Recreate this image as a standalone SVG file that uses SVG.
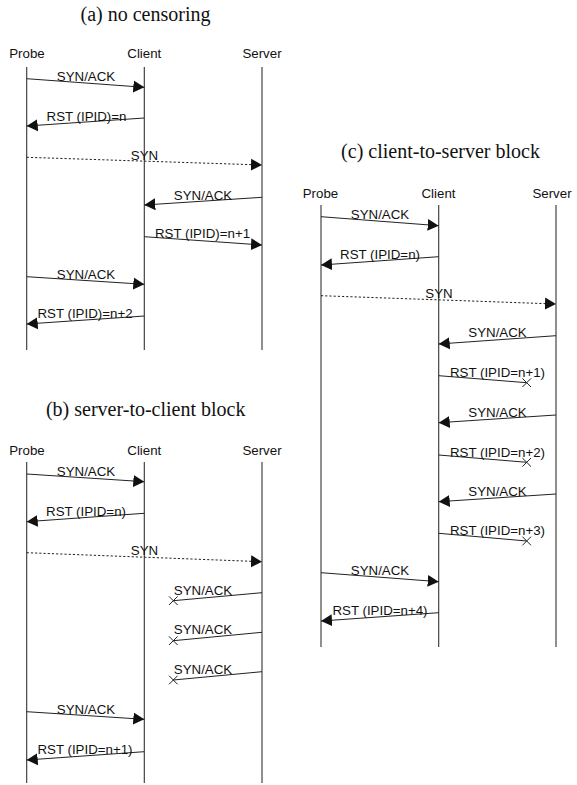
<svg xmlns="http://www.w3.org/2000/svg" width="577" height="785" viewBox="0 0 577 785">
<style>
.title{font-family:"Liberation Serif","Times New Roman",serif;font-size:20px;fill:#111;text-anchor:middle}
.hdr{font-family:"Liberation Sans",Arial,sans-serif;font-size:13.3px;fill:#111;text-anchor:middle}
.lbl{font-family:"Liberation Sans",Arial,sans-serif;font-size:13.3px;fill:#111;text-anchor:middle}
.life{stroke:#333;stroke-width:1.1;fill:none}
.msg{stroke:#222;stroke-width:1;fill:none}
.arr{marker-end:url(#ah)}
.dot{stroke-dasharray:2.2,2}
.x{stroke:#222;stroke-width:1;fill:none}
</style>
<defs>
<marker id="ah" markerUnits="userSpaceOnUse" markerWidth="12" markerHeight="13" refX="11" refY="6" orient="auto" viewBox="0 0 12 12">
<path d="M0,0 L11,6 L0,12 Z" fill="#111"/>
</marker>
</defs>
<rect width="577" height="785" fill="#fff"/>

<text class="title" x="145.5" y="21">(a) no censoring</text>
<text class="title" x="145.7" y="416">(b) server-to-client block</text>
<text class="title" x="440.5" y="158.3">(c) client-to-server block</text>

<!-- panel a nodes -->
<g id="a-probe"><text class="hdr" x="27" y="58">Probe</text><line class="life" x1="26.7" y1="67" x2="26.7" y2="350"/></g>
<g id="a-client"><text class="hdr" x="144.3" y="58">Client</text><line class="life" x1="144.3" y1="67" x2="144.3" y2="350"/></g>
<g id="a-server"><text class="hdr" x="262" y="58">Server</text><line class="life" x1="262" y1="67" x2="262" y2="350"/></g>

<!-- panel b nodes -->
<g id="b-probe"><text class="hdr" x="27" y="455">Probe</text><line class="life" x1="26.7" y1="462" x2="26.7" y2="783"/></g>
<g id="b-client"><text class="hdr" x="144.3" y="455">Client</text><line class="life" x1="144.3" y1="462" x2="144.3" y2="783"/></g>
<g id="b-server"><text class="hdr" x="262" y="455">Server</text><line class="life" x1="262" y1="462" x2="262" y2="783"/></g>

<!-- panel c nodes -->
<g id="c-probe"><text class="hdr" x="320.5" y="198.3">Probe</text><line class="life" x1="321" y1="205" x2="321" y2="647"/></g>
<g id="c-client"><text class="hdr" x="438.5" y="198.3">Client</text><line class="life" x1="438.7" y1="205" x2="438.7" y2="647"/></g>
<g id="c-server"><text class="hdr" x="552" y="198.3">Server</text><line class="life" x1="556" y1="205" x2="556" y2="647"/></g>

<g id="connectors">
<!-- a -->
<line class="msg arr" x1="26.7" y1="78.7" x2="144.3" y2="87.3"/><text class="lbl" x="86" y="81">SYN/ACK</text>
<line class="msg arr" x1="144.3" y1="118" x2="26.7" y2="126"/><text class="lbl" x="86.5" y="120.7">RST (IPID)=n</text>
<line class="msg arr dot" x1="26.7" y1="157.3" x2="262" y2="165"/><text class="lbl" x="144.5" y="159.5">SYN</text>
<line class="msg arr" x1="262" y1="197.3" x2="144.3" y2="205"/><text class="lbl" x="203" y="199.5">SYN/ACK</text>
<line class="msg arr" x1="144.3" y1="236.7" x2="262" y2="245"/><text class="lbl" x="202.5" y="238.3">RST (IPID)=n+1</text>
<line class="msg arr" x1="26.7" y1="276.7" x2="144.3" y2="284.3"/><text class="lbl" x="86" y="279">SYN/ACK</text>
<line class="msg arr" x1="144.3" y1="316" x2="26.7" y2="324"/><text class="lbl" x="85" y="317.7">RST (IPID)=n+2</text>

<!-- b -->
<line class="msg arr" x1="26.7" y1="474" x2="144.3" y2="481.7"/><text class="lbl" x="86" y="476.3">SYN/ACK</text>
<line class="msg arr" x1="144.3" y1="513.3" x2="26.7" y2="521.7"/><text class="lbl" x="86" y="516">RST (IPID=n)</text>
<line class="msg arr dot" x1="26.7" y1="552.7" x2="262" y2="561.7"/><text class="lbl" x="144.5" y="555">SYN</text>
<line class="msg" x1="262" y1="592.7" x2="173.3" y2="600.7"/><path class="x" d="M169,596.4 L177.6,605 M169,605 L177.6,596.4"/><text class="lbl" x="203" y="595">SYN/ACK</text>
<line class="msg" x1="262" y1="632.3" x2="173.3" y2="640.7"/><path class="x" d="M169,636.4 L177.6,645 M169,645 L177.6,636.4"/><text class="lbl" x="203" y="634.3">SYN/ACK</text>
<line class="msg" x1="262" y1="671.7" x2="173.3" y2="680"/><path class="x" d="M169,675.7 L177.6,684.3 M169,684.3 L177.6,675.7"/><text class="lbl" x="203" y="674">SYN/ACK</text>
<line class="msg arr" x1="26.7" y1="711.7" x2="144.3" y2="719.3"/><text class="lbl" x="86" y="714">SYN/ACK</text>
<line class="msg arr" x1="144.3" y1="751.7" x2="26.7" y2="760"/><text class="lbl" x="85" y="754">RST (IPID=n+1)</text>

<!-- c -->
<line class="msg arr" x1="321" y1="216.7" x2="438.7" y2="225.7"/><text class="lbl" x="380" y="219.3">SYN/ACK</text>
<line class="msg arr" x1="438.7" y1="256.7" x2="321" y2="265"/><text class="lbl" x="380" y="259.3">RST (IPID=n)</text>
<line class="msg arr dot" x1="321" y1="295.7" x2="556" y2="304"/><text class="lbl" x="439" y="298.3">SYN</text>
<line class="msg arr" x1="556" y1="335.7" x2="438.7" y2="344"/><text class="lbl" x="497.5" y="337.3">SYN/ACK</text>
<line class="msg" x1="438.7" y1="375.7" x2="526.7" y2="382.7"/><path class="x" d="M522.4,378.4 L531,387 M522.4,387 L531,378.4"/><text class="lbl" x="497.5" y="377.3">RST (IPID=n+1)</text>
<line class="msg arr" x1="556" y1="415" x2="438.7" y2="422.7"/><text class="lbl" x="497.5" y="416.7">SYN/ACK</text>
<line class="msg" x1="438.7" y1="455" x2="526.7" y2="462.3"/><path class="x" d="M522.4,458 L531,466.6 M522.4,466.6 L531,458"/><text class="lbl" x="497.5" y="456.7">RST (IPID=n+2)</text>
<line class="msg arr" x1="556" y1="494" x2="438.7" y2="501.7"/><text class="lbl" x="497.5" y="495.7">SYN/ACK</text>
<line class="msg" x1="438.7" y1="533.3" x2="526.7" y2="541"/><path class="x" d="M522.4,536.7 L531,545.3 M522.4,545.3 L531,536.7"/><text class="lbl" x="497.5" y="535">RST (IPID=n+3)</text>
<line class="msg arr" x1="321" y1="572.7" x2="438.7" y2="581.7"/><text class="lbl" x="380" y="575">SYN/ACK</text>
<line class="msg arr" x1="438.7" y1="612.7" x2="321" y2="621"/><text class="lbl" x="380" y="615">RST (IPID=n+4)</text>
</g>
</svg>
